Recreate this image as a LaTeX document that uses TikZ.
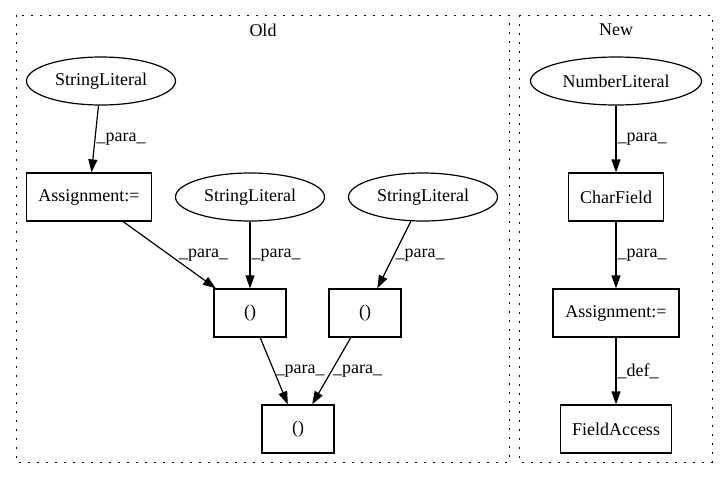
\documentclass[tikz,border=0pt]{standalone}
\usepackage{fontspec}
\setmainfont{Liberation Serif}
\usetikzlibrary{shapes.geometric,arrows.meta}

\begin{document}
\begin{tikzpicture}[x=1pt, y=-1pt, line width=1.2pt,
    font=\fontsize{18}{20}\selectfont,
    lit/.style={ellipse, draw, inner sep=0pt, minimum height=48pt},
    op/.style={rectangle, draw, inner sep=0pt, minimum height=48pt},
    cluster/.style={draw, line width=1pt, dash pattern=on 2pt off 7pt},
    lbl/.style={right, inner sep=1pt},
    >={Triangle[length=13pt,width=9pt]}]

    \useasboundingbox (0,0) rectangle (728,480);

    \draw [cluster] (16,15) rectangle (509,462);
    \draw [cluster] (519,15) rectangle (712,462);
    \node (old) at (263,30) {Old};
    \node (new) at (616,30) {New};

    \node [lit, minimum width=149pt] (sa) at (101, 81) {StringLiteral};
    \node [op, minimum width=125pt] (asa) at (89, 197) {Assignment:=};
    \node [lit, minimum width=149pt] (sb) at (250, 197) {StringLiteral};
    \node [lit, minimum width=149pt] (sc) at (423, 197) {StringLiteral};
    \node [op, minimum width=72pt] (pa) at (250, 313) {()};
    \node [op, minimum width=72pt] (pb) at (365, 313) {()};
    \node [op, minimum width=72pt] (pc) at (298, 429) {()};

    \node [lit, minimum width=171pt] (nl) at (616, 81) {NumberLiteral};
    \node [op, minimum width=95pt] (cf) at (616, 197) {CharField};
    \node [op, minimum width=126pt] (asb) at (616, 313) {Assignment:=};
    \node [op, minimum width=111pt] (fa) at (616, 429) {FieldAccess};

    \draw [->] (sa) to node [lbl] {\_para\_} (asa);
    \draw [->] (asa) to node [lbl, xshift=8pt] {\_para\_} (pa);
    \draw [->] (sb) to node [lbl] {\_para\_} (pa);
    \draw [->] (sc) to node [lbl] {\_para\_} (pb);
    \draw [->] (pa) to node [lbl] {\_para\_} (pc);
    \draw [->] (pb) to node [lbl] {\_para\_} (pc);
    \draw [->] (nl) to node [lbl] {\_para\_} (cf);
    \draw [->] (cf) to node [lbl] {\_para\_} (asb);
    \draw [->] (asb) to node [lbl] {\_def\_} (fa);

  \end{tikzpicture}
\end{document}
